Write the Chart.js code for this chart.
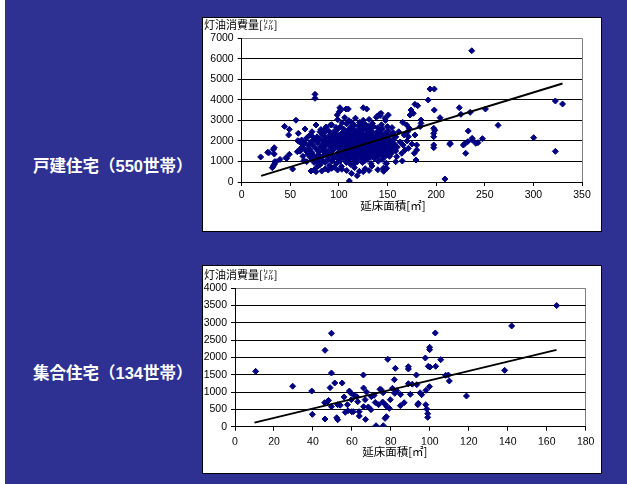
<!DOCTYPE html>
<html lang="ja">
<head>
<meta charset="utf-8">
<script src="https://cdn.jsdelivr.net/npm/chart.js@4.4.0/dist/chart.umd.min.js"></script>
<style>
    html, body { margin: 0; padding: 0; background: #fff; }
    #stage { position: relative; width: 627px; height: 484px; overflow: hidden; }
    #bg { position: absolute; left: 5px; top: 0; width: 622px; height: 484px; background: #2e3192; }
    .panel { position: absolute; left: 202px; width: 400px; background: #fff; border: 1px solid #000; box-sizing: border-box; }
    .panel canvas { position: absolute; left: 0; top: 0; }
    .label { position: absolute; left: 33px; color: #fff; font: bold 16.5px/20px "Liberation Sans", "Noto Sans CJK JP", sans-serif; white-space: nowrap; }
</style>
</head>
<body>
<div id="stage">
    <div id="bg"></div>
    <div class="label" style="top:156px">戸建住宅（550世帯）</div>
    <div class="label" style="top:363px">集合住宅（134世帯）</div>
    <div class="panel" style="top:17px;height:215px"><canvas id="detachedChart" width="398" height="213"></canvas></div>
    <div class="panel" style="top:265px;height:209px"><canvas id="apartmentChart" width="398" height="207"></canvas></div>
</div>
<script>
// 軸ラベル
const Y_TITLE = '灯油消費量[㍑]';
const X_TITLE = '延床面積[㎡]';

// 戸建住宅: [延床面積, 灯油消費量]
const detachedSparse = [
    [19.5,1220],[26.7,1446],[28,1430],[32.5,1590],[33.5,1670],[33.5,1363],[31.5,700],[32.5,780],[33.5,860],
    [34,990],[35.3,990],[39.4,1100],[44,2710],[49,2566],[48.3,2290],[45.5,1180],[49,1348],[46.3,1150],
    [52.4,630],[55.8,3010],[57.6,2010],[59.2,1963],[61.6,2046],[57.2,1476],[59.2,1558],[61.7,1884],
    [63.4,1802],[58.2,2371],[65.1,2581],[66.8,990],[65.8,1558],[67.5,1450],[69,1330],[70.5,1220],[72,1120],
    [75.4,4271],[75.4,4076],[76.4,2776],[70.2,2289],[72.3,2450],[71.3,536],[74.4,584],[76.4,503],[77,990],
    [77.7,747],[82.3,536],[85.6,2566],[80.5,2452],[91.4,2777],[92.5,666],[98.6,585],[101,3620],[101.8,3506],
    [107.3,3555],[109.6,3555],[98.3,3263],[100.4,3425],[110.7,49],[118.7,308],[125,503],[125,3618],
    [128.6,3555],[139.7,3215],[142,3313],[143.3,3345],[150.8,3263],[147.4,3101],[145.6,666],[149.1,666],
    [149,909],[157.5,1559],[165.6,2907],[169.7,2776],[172.4,2615],[170.7,2450],[167.2,2289],[171.4,2206],
    [178.2,2289],[180,1802],[180,1558],[179.3,1071],[177.5,1398],[171.4,1641],[168,1558],[165.2,1023],
    [164.6,1398],[159.4,1232],[158.4,989],[158.4,1510],[178.2,3784],[181,3716],[174.1,3506],[176.5,3345],
    [173.1,3263],[184.4,3019],[184.4,2858],[183.6,2700],[191.8,3995],[193.7,4529],[198.1,4529],[198.1,3506],
    [197.5,2615],[197.5,2371],[197.5,2206],[197.5,1802],[197.5,1670],[198.6,2520],[204,3131],[209,146],
    [214.2,1836],[214.4,1884],[223.8,3618],[225.5,3296],[233,2484],[229.7,1884],[232.4,1963],[230.4,1398],
    [228,1800],[235,3394],[237.2,2045],[237,2127],[236.6,6394],[240.8,1884],[243,1916],[247.6,2111],
    [250.7,3557],[263.7,2761],[300.3,2160],[322.6,3946],[322.6,1494],[330,3800]
];

const detachedDense = [
    [60,1500],[62,1700],[63,1250],[65,1900],[66,1550],[67,2150],[68,1350],[69,1750],[70,1600],[71,1950],
    [72,1450],[73,1800],[74,1300],[75,2050],[76,1650],[77,1250],[74.5,950],[73,2200],[64,1050],[62.5,2000],
    [78,1900],[79,1480],[77.5,2200],[78.5,1120],[80,820],[80.5,2080],[81,1700],[80,1300],[81.5,2560],[82,920],
    [82.5,1820],[83,2290],[83.5,1520],[82.8,1080],[84,2010],[84.5,1620],[85,2410],[85.5,1990],[84.8,1310],[86,960],
    [86.5,2180],[87,1790],[87.5,1420],[86.8,2680],[88,1060],[88.5,1880],[89,1510],[89.5,2480],[88.8,1190],[90,2120],
    [90.5,800],[91,2290],[91.5,1710],[91.2,1980],[92,1360],[92.5,2790],[92.8,1020],[93,1790],[93.5,2210],[94,1560],
    [94.5,2440],[94.2,1140],[95,1930],[95.5,2010],[96,1640],[96.5,2340],[95.8,1250],[97,2660],[97.5,910],[96.2,1850],
    [98,1740],[98.5,2150],[99,1410],[98.2,2550],[99.5,1090],[99.8,1960],[98.7,3040],[100,1880],[100.5,2290],[101,1610],
    [100.2,1320],[101.5,2690],[101.2,2060],[100.8,1010],[101.8,1480],[102,1980],[102.5,1700],[103,2380],[102.2,1440],[103.5,2180],
    [102.8,1190],[103.2,2890],[103.8,1830],[102.6,760],[104,1790],[104.5,2270],[105,1630],[104.2,2040],[105.5,1380],[104.8,2580],
    [105.2,1140],[106,3140],[105.8,1740],[104.6,1510],[106.5,1990],[107,1760],[107.5,2390],[106.8,1490],[107.2,2160],[108,1250],
    [107.8,2840],[106.2,1920],[107.6,950],[108.4,1640],[108.8,1850],[109.2,2240],[109.5,1590],[110,2010],[108.6,1340],[109.8,2540],
    [110.4,1100],[109,1950],[110.2,2990],[109.4,1460],[110.8,2110],[111.2,1690],[111.5,2460],[112,1520],[110.6,1890],[111.8,1240],
    [112.4,2700],[111,2300],[112.2,850],[111.6,1780],[112.8,1800],[113.2,2190],[113.5,1560],[114,2020],[112.6,1400],[113.8,2610],
    [114.4,1150],[113,2910],[114.2,1700],[113.4,1320],[114.8,2060],[115.2,1650],[115.5,2350],[116,1440],[114.6,1910],[115.8,2760],
    [116.4,1190],[115,2150],[116.2,900],[115.4,1580],[116.8,1760],[117.2,2240],[117.5,1540],[118,2000],[116.6,1350],[117.8,2490],
    [118.4,1090],[117,3110],[118.2,1840],[117.6,1270],[118.8,2100],[119.2,1800],[119.5,2400],[120,1590],[118.6,1960],[119.8,1300],
    [120.4,2710],[119,990],[120.2,2250],[119.4,1480],[120.8,1900],[121.2,2310],[121.5,1690],[122,2060],[120.6,1450],[121.8,2600],
    [122.4,1200],[121,2900],[122.2,1560],[121.4,1820],[122.8,2000],[123.2,1640],[123.5,2210],[124,1790],[122.6,1390],[123.8,2510],
    [124.4,1100],[123,2790],[124.2,950],[123.4,1480],[124.8,1850],[125.2,2340],[125.5,1550],[126,2100],[124.6,1300],[125.8,2650],
    [126.4,1750],[125,3010],[126.2,1020],[125.4,1960],[126.8,2050],[127.2,1700],[127.5,2260],[128,1500],[126.6,1890],[127.8,1250],
    [128.4,2550],[127,2810],[128.2,1400],[128.8,1800],[129.2,2140],[129.5,1600],[130,2400],[128.6,1350],[129.8,2000],[130.4,2700],
    [129,1100],[130.2,1760],[130.8,2010],[131.2,1650],[131.5,2300],[132,1450],[130.6,1840],[131.8,2610],[132.4,1210],[131,3050],
    [132.2,1580],[132.8,1750],[133.2,2100],[133.5,1540],[134,2450],[132.6,1300],[133.8,1950],[134.4,2850],[133,900],[134.2,1680],
    [134.8,1900],[135.2,2240],[135.5,1600],[136,2010],[134.6,1400],[135.8,2700],[136.4,1150],[135,1820],[136.8,1700],[137.2,2110],
    [137.5,1500],[138,2390],[136.6,1850],[137.8,1250],[138.4,3150],[137,1990],[138.8,1950],[139.2,1600],[139.5,2300],[140,1350],
    [138.6,2060],[139.8,2640],[140.4,1010],[139,1750],[140.8,1800],[141.2,2150],[141.5,1500],[142,2500],[140.6,1250],[141.8,1950],
    [142.4,3240],[141,1650],[142.8,1650],[143.2,2000],[143.5,2350],[144,1400],[142.6,1800],[143.8,2790],[144.4,1100],[144.8,1900],
    [145.2,1550],[145.5,2200],[146,1300],[144.6,2600],[145.8,1750],[146.8,1700],[147.2,2050],[147.5,1450],[148,2400],[146.6,1200],
    [147.8,3000],[148.4,900],[148.8,1850],[149.2,1600],[149.5,2250],[150,1350],[148.6,2000],[149.8,2700],[150.8,1750],[151.2,2100],
    [151.5,1500],[152,1250],[150.6,2500],[151.8,1950],[152.8,1900],[153.2,1600],[153.5,2300],[154,1400],[154.6,2650],[155.2,1700],
    [155.8,2050],[156,2400],[157.2,1850],[158.6,2200],[160,1700],[161.5,2450],[163,1950],[166,1800],[170,2000],[175,1850],
    [86,650],[89,580],[95,720],[103,620],[108,560],[116,700],[121,520],[127,650],[134,780],[140,600],[146,520],[113,420],[131,560]
];

// 回帰直線の両端
const detachedTrendX = [20, 330];
const detachedTrendY = [300, 4800];

// 集合住宅: [延床面積, 灯油消費量]
const apartmentPoints = [
    [10.6,1600],[29.6,1170],[39.4,1030],[39.7,357],[46.2,2207],[46.2,222],[46,694],[47.4,723],[48,760],[48.8,1128],
    [49.5,2700],[49.5,1552],[49.5,578],[51.2,1263],[52.7,636],[52.2,260],[52.7,202],[55,1263],[56,858],[56.6,415],
    [57.7,636],[58.7,1031],[59.4,974],[59.7,781],[59.9,434],[60.7,434],[61,916],[63,723],[63.7,434],[63.8,308],
    [65.9,1494],[66,1118],[66,578],[66.8,781],[67,212],[68.4,569],[69.8,492],[70,868],[71.4,906],[72.4,29],
    [73.7,636],[74.4,1080],[75,1070],[75.8,713],[76.1,29],[77,241],[77.7,289],[77.2,636],[78,578],[78.4,1947],
    [79.2,530],[79.7,781],[80.8,1109],[81.8,1359],[82,964],[82.3,1687],[82.5,1012],[84.9,607],[86.8,694],[89,1735],
    [89,1668],[89,1244],[90,935],[93.1,1494],[93.3,1215],[93.8,636],[94.1,675],[95.8,925],[97.7,1986],[97.9,636],
    [98,1051],[98.4,511],[98.9,376],[98.9,270],[99.2,1745],[99.8,1157],[99.9,2294],[99.9,2227],[100.1,1726],[102.8,2709],
    [103,1745],[105.6,1938],[108.1,1485],[109.5,1494],[110,1320],[118.8,887],[138.4,1629],[142,2911],[165.1,3500],
    [54,620],[58,460],[62.5,870],[67.5,1000],[72,700],[76,980],[83,1040],[85,930],[91,1230],[95,980]
];

const apartmentTrendX = [10, 165];
const apartmentTrendY = [117, 2220];

const JP_FONT = '"Noto Sans CJK JP", sans-serif';
const NUM_FONT = '"Liberation Sans", Arial, sans-serif';
const MARK_COLOR = '#000080';

/**
 * 散布図＋回帰直線を描く
 */
function makeScatter(id, points, trendX, trendY, axis, box) {
    const ctx = document.getElementById(id);
    return new Chart(ctx, {
        type: 'scatter',
        data: {
            datasets: [{
                // 回帰直線（点より手前）
                data: trendX.map((x, i) => ({ x: x, y: trendY[i] })),
                showLine: true,
                borderColor: '#000',
                borderWidth: 2,
                pointRadius: 0,
                fill: false
            }, {
                data: points.map(p => ({ x: p[0], y: p[1] })),
                pointStyle: 'rectRot',
                pointRadius: 3,
                backgroundColor: MARK_COLOR,
                borderColor: MARK_COLOR,
                borderWidth: 1
            }]
        },
        options: {
            responsive: false,
            animation: false,
            events: [],
            layout: { padding: { left: 1, right: box.padRight, top: 0, bottom: 0 } },
            plugins: {
                legend: { display: false },
                tooltip: { enabled: false },
                title: {
                    display: true,
                    text: Y_TITLE,
                    align: 'start',
                    color: '#000',
                    font: { family: JP_FONT, size: 11, weight: 'normal' },
                    padding: { top: box.titleTop, bottom: box.titleBottom }
                },
                subtitle: {
                    display: true,
                    position: 'bottom',
                    text: X_TITLE,
                    color: '#000',
                    font: { family: JP_FONT, size: 11.5, weight: 'normal' },
                    padding: { top: 0, bottom: box.subBottom }
                }
            },
            scales: {
                x: {
                    type: 'linear',
                    min: 0,
                    max: axis.xMax,
                    ticks: { stepSize: axis.xStep, color: '#000', font: { family: NUM_FONT, size: 10.5 }, padding: box.tickPad, maxRotation: 0, autoSkip: false, callback: v => String(v) },
                    grid: {
                        color: c => (c.tick && c.tick.value === axis.xMax) ? '#808080' : 'rgba(0,0,0,0)',
                        tickColor: '#000',
                        tickLength: 4
                    },
                    border: { color: '#000' },
                    afterFit: s => { s.height = box.xAxisHeight; }
                },
                y: {
                    min: 0,
                    max: axis.yMax,
                    ticks: { stepSize: axis.yStep, color: '#000', font: { family: NUM_FONT, size: 10.5 }, padding: 4, callback: v => String(v) },
                    grid: {
                        color: c => (c.tick && c.tick.value === axis.yMax) ? '#808080' : '#000',
                        tickColor: '#000',
                        tickLength: 4
                    },
                    border: { color: '#000' },
                    afterFit: s => { s.width = box.yAxisWidth; }
                }
            }
        }
    });
}

makeScatter('detachedChart', detachedSparse.concat(detachedDense), detachedTrendX, detachedTrendY,
    { xMax: 350, xStep: 50, yMax: 7000, yStep: 1000 },
    { padRight: 19, yAxisWidth: 37.7, titleTop: 0.4, titleBottom: 6.7, xAxisHeight: 17, subBottom: 18.2, tickPad: 3 });

makeScatter('apartmentChart', apartmentPoints, apartmentTrendX, apartmentTrendY,
    { xMax: 180, xStep: 20, yMax: 4000, yStep: 500 },
    { padRight: 15.3, yAxisWidth: 31, titleTop: 2.4, titleBottom: 6.7, xAxisHeight: 18.1, subBottom: 14.4, tickPad: 4.7 });
</script>
</body>
</html>
